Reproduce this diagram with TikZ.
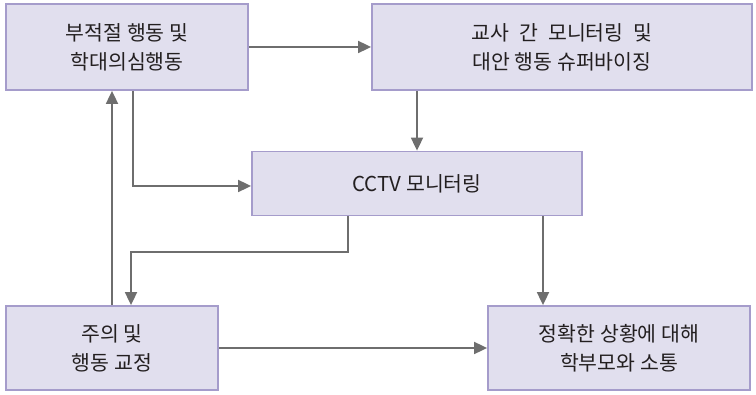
\documentclass[tikz,border=0pt]{standalone}
\usepackage{fontspec}
\setmainfont{Noto Sans CJK KR}
\usetikzlibrary{arrows.meta}
\definecolor{boxfill}{HTML}{E1DFEE}
\definecolor{boxline}{HTML}{A59CCB}
\definecolor{arrgray}{HTML}{6E6E6E}
\definecolor{txt}{HTML}{231F20}
\tikzset{
  stepbox/.style={draw=boxline, fill=boxfill, line width=1.8pt, inner sep=0pt,
    align=center, text=txt, font=\fontsize{20.5}{29}\selectfont},
  arr/.style={draw=arrgray, line width=1.8pt, -{Triangle[length=13pt,width=12pt]}}
}
\begin{document}
\begin{tikzpicture}[x=1pt,y=-1pt]
\useasboundingbox (0,0) rectangle (756,395);
\node[stepbox, minimum width=242pt, minimum height=86pt] (A) at (127,47) {부적절 행동 및\\학대의심행동};
\node[stepbox, minimum width=380pt, minimum height=86pt] (B) at (562,47) {교사\hspace{0.5em}간\hspace{0.5em}모니터링\hspace{0.5em}및\\대안 행동 슈퍼바이징};
\node[stepbox, minimum width=330pt, minimum height=64pt] (C) at (417,183.5) {CCTV 모니터링};
\node[stepbox, minimum width=212pt, minimum height=84pt] (D) at (112,348) {주의 및\\행동 교정};
\node[stepbox, minimum width=262pt, minimum height=84pt] (E) at (619,348) {정확한 상황에 대해\\학부모와 소통};
\draw[arr] (A.east) -- (B.west);
\draw[arr] (C.north |- B.south) -- (C.north);
\draw[arr] ([xshift=6pt]A.south) |- ([yshift=-2.5pt]C.west);
\draw[arr] (D.north) -- (D.north |- A.south);
\draw[arr] ([xshift=-69pt]C.south) -- ++(0,35.5) -| ([xshift=19pt]D.north);
\coordinate (ce) at ([xshift=126pt]C.south);
\draw[arr] (ce) -- (ce |- E.north);
\draw[arr] (D.east) -- (E.west);
\end{tikzpicture}
\end{document}
